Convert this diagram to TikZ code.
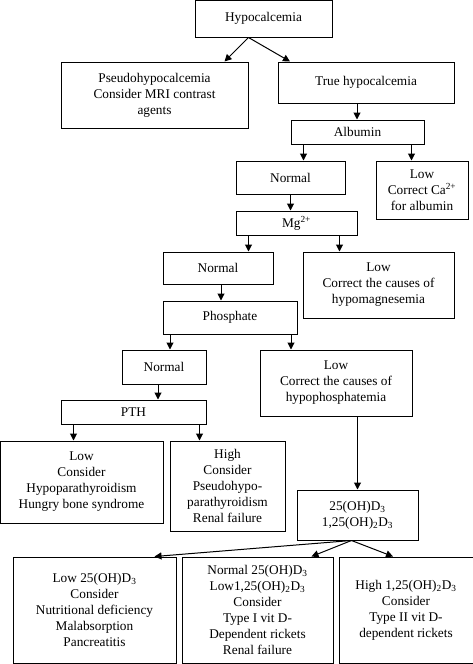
\documentclass[tikz,border=0pt]{standalone}
\usepackage{fontspec}
\setmainfont{Liberation Serif}
\usetikzlibrary{arrows.meta}

\tikzset{
    box/.style={draw, line width=1pt, align=center, inner sep=0pt},
    arr/.style={-{Triangle[length=7pt,width=7pt]}, line width=1pt}
}

\begin{document}
\begin{tikzpicture}[x=1pt, y=-1pt, font=\fontsize{13.3}{16}\selectfont]
                \useasboundingbox (0,0) rectangle (473,664);

                \node[box, minimum width=137pt, minimum height=37pt] (hypo) at (263.5,18.5) {Hypocalcemia};
                \node[box, minimum width=187pt, minimum height=66pt] (pseudo) at (154.5,95) {Pseudohypocalcemia\\ Consider MRI contrast\\ agents};
                \node[box, minimum width=176pt, minimum height=41pt] (true) at (366,82.5) {True hypocalcemia};
                \node[box, minimum width=133pt, minimum height=24pt] (albumin) at (357.5,132) {Albumin};
                \node[box, minimum width=109pt, minimum height=33pt] (normA) at (290.5,177.5) {Normal};
                \node[box, minimum width=92pt, minimum height=58pt] (lowA) at (422,190) {Low\\ Correct Ca\textsuperscript{2+}\\ for albumin};
                \node[box, minimum width=121pt, minimum height=24pt] (mg) at (296.5,223) {Mg\textsuperscript{2+}};
                \node[box, minimum width=110pt, minimum height=32pt] (normB) at (218,268) {Normal};
                \node[box, minimum width=151pt, minimum height=66pt] (lowM) at (378.5,285) {Low\\ Correct the causes of\\ hypomagnesemia};
                \node[box, minimum width=134pt, minimum height=33pt] (phos) at (230,317.5) {Phosphate};
                \node[box, minimum width=84pt, minimum height=34pt] (normC) at (164,367) {Normal};
                \node[box, minimum width=152pt, minimum height=66pt] (lowP) at (336,383) {Low\\ Correct the causes of\\ hypophosphatemia};
                \node[box, minimum width=145pt, minimum height=24pt] (pth) at (133.5,412) {PTH};
                \node[box, minimum width=163pt, minimum height=82pt] (lowT) at (81.5,482) {Low\\ Consider\\ Hypoparathyroidism\\ Hungry bone syndrome};
                \node[box, minimum width=115pt, minimum height=90pt] (highT) at (227.5,486) {High\\ Consider\\ Pseudohypo-\\ parathyroidism\\ Renal failure};
                \node[box, minimum width=121pt, minimum height=50pt] (vitD) at (357.5,515) {25(OH)D\textsubscript{3}\\ 1,25(OH)\textsubscript{2}D\textsubscript{3}};
                \node[box, minimum width=163pt, minimum height=106pt] (lowD) at (94.5,610) {Low 25(OH)D\textsubscript{3}\\ Consider\\ Nutritional deficiency\\ Malabsorption\\ Pancreatitis};
                \node[box, minimum width=151pt, minimum height=106pt] (normD) at (257.5,610) {Normal 25(OH)D\textsubscript{3}\\ Low1,25(OH)\textsubscript{2}D\textsubscript{3}\\ Consider\\ Type I vit D-\\ Dependent rickets\\ Renal failure};
                \node[box, minimum width=134pt, minimum height=106pt] (highD) at (406,610) {High 1,25(OH)\textsubscript{2}D\textsubscript{3}\\ Consider\\ Type II vit D-\\ dependent rickets};

                % slanted arrows
                \draw[arr] ([xshift=-15pt]hypo.south) -- ([xshift=70pt]pseudo.north);
                \draw[arr] ([xshift=-15pt]hypo.south) -- ([xshift=-76pt]true.north);
                \draw[arr] ([xshift=-6pt]vitD.south) -- ([xshift=60pt]lowD.north);
                \draw[arr] ([xshift=-6pt]vitD.south) -- ([xshift=54pt]normD.north);
                \draw[arr] ([xshift=-6pt]vitD.south) -- ([xshift=-13pt]highD.north);

                % straight arrows
                \draw[arr] ([xshift=-9pt]true.south) -- ([xshift=-9pt]true.south |- albumin.north);
                \draw[arr] ([xshift=-54pt]albumin.south) -- ([xshift=-54pt]albumin.south |- normA.north);
                \draw[arr] ([xshift=54pt]albumin.south) -- ([xshift=54pt]albumin.south |- lowA.north);
                \draw[arr] (normA.south) -- (normA.south |- mg.north);
                \draw[arr] ([xshift=-48pt]mg.south) -- ([xshift=-48pt]mg.south |- normB.north);
                \draw[arr] ([xshift=43pt]mg.south) -- ([xshift=43pt]mg.south |- lowM.north);
                \draw[arr] ([xshift=3pt]normB.south) -- ([xshift=3pt]normB.south |- phos.north);
                \draw[arr] ([xshift=-60pt]phos.south) -- ([xshift=-60pt]phos.south |- normC.north);
                \draw[arr] ([xshift=61pt]phos.south) -- ([xshift=61pt]phos.south |- lowP.north);
                \draw[arr] ([xshift=-6pt]normC.south) -- ([xshift=-6pt]normC.south |- pth.north);
                \draw[arr] ([xshift=-60pt]pth.south) -- ([xshift=-60pt]pth.south |- lowT.north);
                \draw[arr] ([xshift=66pt]pth.south) -- ([xshift=66pt]pth.south |- highT.north);
                \draw[arr] (lowP.south -| vitD.north) -- (vitD.north);
            \end{tikzpicture}
\end{document}
